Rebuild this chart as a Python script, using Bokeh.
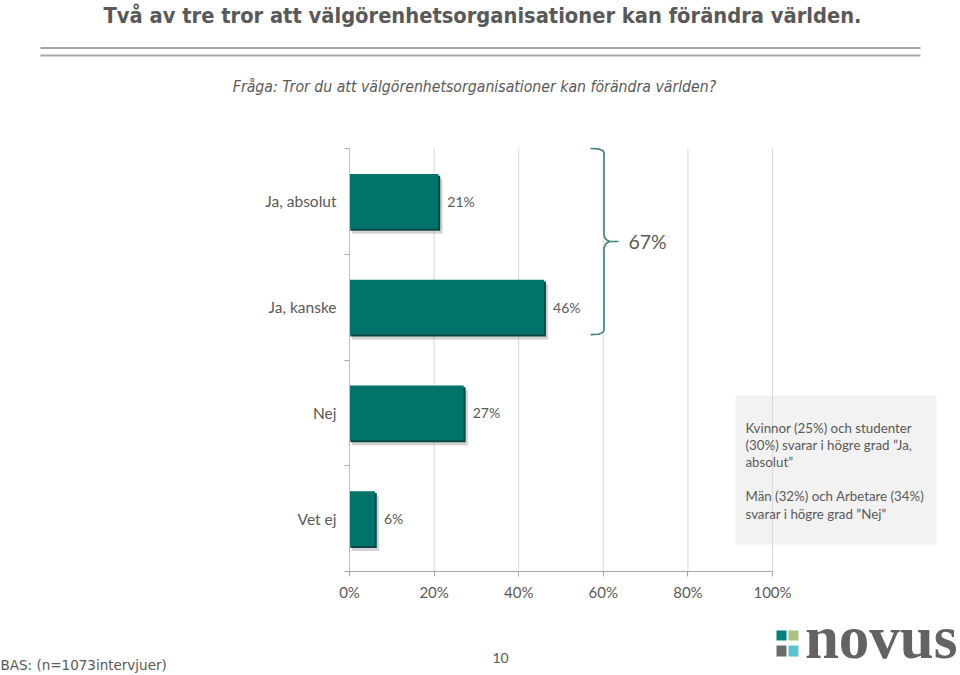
from bokeh.plotting import figure
from bokeh.models import FixedTicker, Label, BoxAnnotation, ColumnDataSource
from bokeh.embed import file_html
from bokeh.resources import INLINE
from bokeh.core.properties import value

# ---------------- data ----------------
categories = ["Ja, absolut", "Ja, kanske", "Nej", "Vet ej"]
values = [21, 46, 27, 6]
x_ticks = [0, 20, 40, 60, 80, 100]
x_tick_labels = ["0%", "20%", "40%", "60%", "80%", "100%"]
title_text = "Två av tre tror att välgörenhetsorganisationer kan förändra världen."
subtitle_text = "Fråga: Tror du att välgörenhetsorganisationer kan förändra världen?"
note_lines = [
    "Kvinnor (25%) och studenter",
    "(30%) svarar i högre grad \u201dJa,",
    "absolut\u201d",
    "",
    "Män (32%) och Arbetare (34%)",
    "svarar i högre grad \u201dNej\u201d",
]
base_text = "BAS: (n=1073intervjuer)"
page_number = "10"
logo_text = "novus"
bracket_total = values[0] + values[1]

# ---------------- layout helpers (reference pixels -> data) ----------------
W, H = 960, 675
X0_PX, X100_PX = 349, 772   # pixel of 0% and 100%
Y0_PX, Y4_PX = 571, 148     # pixel of category bottom / top
PX_X = (X100_PX - X0_PX) / 100.0
PX_Y = (Y0_PX - Y4_PX) / 4.0


def X(px):
    return (px - X0_PX) / PX_X


def Y(px):
    return (Y0_PX - px) / PX_Y


GREY_TXT = "#595959"
BAR = "#00736B"
FONT = "Lato"
COND = "'DejaVu Sans Condensed', 'Liberation Sans Narrow', sans-serif"

n = len(categories)
y_centers = [n - i - 0.5 for i in range(n)]
bar_h = 0.52

p = figure(
    width=W, height=H,
    x_range=(X(0), X(W)), y_range=(Y(H), Y(0)),
    min_border=0, toolbar_location=None, output_backend="svg",
)
p.outline_line_color = None
p.xgrid.visible = False
p.ygrid.visible = False
p.background_fill_color = "white"
p.border_fill_color = "white"

# note box (behind grid)
p.add_layout(BoxAnnotation(left=X(735), right=X(936), top=Y(395), bottom=Y(544),
                           fill_color="#F2F2F2", fill_alpha=1, line_color=None,
                           level="underlay"))

# vertical grid lines
gx = [t for t in x_ticks if t > 0]
p.segment(x0=gx, y0=[0] * len(gx), x1=gx, y1=[n] * len(gx),
          line_color="#D9D9D9", line_width=1)

# bars with shadow
src = ColumnDataSource(dict(
    y=y_centers, v=values,
    ys=[y - 0.045 for y in y_centers], vs=[v + 1.0 for v in values],
    ye=[y - 0.018 for y in y_centers], ve=[v + 0.45 for v in values],
    lab=[f"{v}%" for v in values],
))
p.hbar(y="ys", left=0.6, right="vs", height=bar_h, source=src,
       fill_color="#808080", fill_alpha=0.35, line_color=None)
p.hbar(y="ye", left=0.2, right="ve", height=bar_h, source=src,
       fill_color="#0C4843", line_color=None)
p.hbar(y="y", left=0, right="v", height=bar_h, source=src,
       fill_color=BAR, line_color=None)

# value labels
p.text(x="v", y="y", text="lab", source=src, x_offset=9,
       text_font=value(FONT), text_font_size="14px", text_color=GREY_TXT,
       text_align="left", text_baseline="middle")

# axes, drawn at fixed data locations inside the canvas
xa = p.xaxis[0]
xa.fixed_location = 0
xa.ticker = FixedTicker(ticks=x_ticks)
xa.major_label_overrides = {t: l for t, l in zip(x_ticks, x_tick_labels)}
xa.bounds = (0, 100)
xa.axis_line_color = "#A6A6A6"
xa.major_tick_line_color = "#A6A6A6"
xa.major_tick_out = 5
xa.major_tick_in = 0
xa.minor_tick_line_color = None
xa.major_label_standoff = 6
xa.major_label_text_font = FONT
xa.major_label_text_font_size = "15px"
xa.major_label_text_color = GREY_TXT

ya = p.yaxis[0]
ya.fixed_location = 0
ya.ticker = FixedTicker(ticks=y_centers, minor_ticks=list(range(n + 1)))
ya.major_label_overrides = {y: c for y, c in zip(y_centers, categories)}
ya.bounds = (0, n)
ya.axis_line_color = "#BFBFBF"
ya.major_tick_line_color = None
ya.major_tick_out = 0
ya.major_tick_in = 0
ya.minor_tick_line_color = "#A6A6A6"
ya.minor_tick_out = 5
ya.minor_tick_in = 0
ya.major_label_standoff = 8
ya.major_label_text_font = FONT
ya.major_label_text_font_size = "15.5px"
ya.major_label_text_color = GREY_TXT

# bracket around the two "Ja" answers
b_top = n
b_bot = y_centers[1] - bar_h / 2
b_mid = (b_top + b_bot) / 2
hx, sx, tx = X(590), X(603.5), X(618)
dy = 4 / PX_Y
bx = [hx, X(598), X(602), sx, sx, X(605.5), X(609), tx, X(609), X(605.5), sx, sx, X(602), X(598), hx]
by = [b_top, b_top - 0.1 * dy, b_top - dy / 2, b_top - dy,
      b_mid + 1.5 * dy, b_mid + 0.5 * dy, b_mid, b_mid, b_mid, b_mid - 0.5 * dy, b_mid - 1.5 * dy,
      b_bot + dy, b_bot + dy / 2, b_bot + 0.1 * dy, b_bot]
p.line(bx, by, line_color="#3E7F7A", line_width=1.6)
p.add_layout(Label(x=X(628), y=b_mid, text=f"{bracket_total}%", text_font=FONT,
                   text_font_size="19.5px", text_color=GREY_TXT,
                   text_align="left", text_baseline="middle"))

# note text
for i, line in enumerate(note_lines):
    if line:
        p.add_layout(Label(x=X(745), y=Y(427 + 17.2 * i), text=line, text_font=FONT,
                           text_font_size="13.3px", text_color=GREY_TXT,
                           text_align="left", text_baseline="middle"))

# ---------------- header ----------------
p.add_layout(Label(x=X(482), y=Y(15), text=title_text, text_font=COND,
                   text_font_style="bold", text_font_size="21.7px", text_color=GREY_TXT,
                   text_align="center", text_baseline="middle"))
p.quad(left=[X(40)] * 2, right=[X(920)] * 2, top=[Y(46.5), Y(54.0)], bottom=[Y(48.5), Y(56.0)],
       fill_color="#A6A6A6", line_color=None)
p.add_layout(Label(x=X(474), y=Y(86), text=subtitle_text, text_font=COND,
                   text_font_style="italic", text_font_size="15.7px", text_color=GREY_TXT,
                   text_align="center", text_baseline="middle"))

# ---------------- footer ----------------
p.add_layout(Label(x=X(0), y=Y(664), text=base_text, text_font="DejaVu Sans",
                   text_font_size="13.5px", text_color=GREY_TXT,
                   text_align="left", text_baseline="middle"))
p.add_layout(Label(x=X(500), y=Y(657), text=page_number, text_font=FONT,
                   text_font_size="14px", text_color=GREY_TXT,
                   text_align="center", text_baseline="middle"))
p.quad(left=[X(776), X(788), X(776), X(788)], right=[X(786), X(798), X(786), X(798)],
       top=[Y(630), Y(630), Y(645), Y(645)], bottom=[Y(640), Y(640), Y(656), Y(656)],
       fill_color=["#00837D", "#A9C27F", "#6B6B6B", "#5BC3CF"], line_color=None)
p.add_layout(Label(x=X(957), y=Y(637), text=logo_text, text_font="Liberation Serif",
                   text_font_style="bold", text_font_size="61px", text_color="#626365",
                   text_align="right", text_baseline="middle"))

open("out.html", "w").write(file_html(p, INLINE))
